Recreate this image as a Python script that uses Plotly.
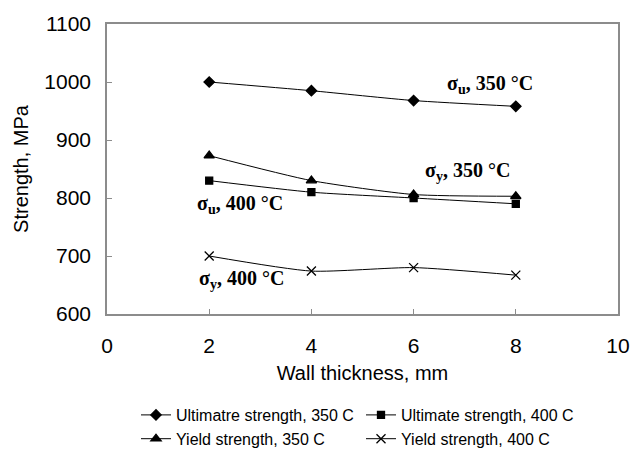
import plotly.graph_objects as go

thickness = [2, 4, 6, 8]
ult_350 = [1000, 985, 968, 958]
ult_400 = [830, 810, 800, 790]
yld_350 = [873, 830, 806, 803]
yld_400 = [700, 674, 680, 667]

series_names = [
    "Ultimatre strength, 350 C",
    "Ultimate strength, 400 C",
    "Yield strength, 350 C",
    "Yield strength, 400 C",
]
series_values = [ult_350, ult_400, yld_350, yld_400]
symbols = ["diamond", "square", "triangle-up", "x-thin-open"]
sizes = [8, 7, 9, 9]

label_texts = [
    "σ<sub>u</sub>, 350 °C",
    "σ<sub>y</sub>, 350 °C",
    "σ<sub>u</sub>, 400 °C",
    "σ<sub>y</sub>, 400 °C",
]
label_x = [7.5, 7.05, 2.6, 2.63]
label_y = [995, 846, 789, 660]

fig = go.Figure()
for name, vals, sym, sz in zip(series_names, series_values, symbols, sizes):
    fig.add_trace(go.Scatter(
        x=thickness, y=vals, name=name, mode="lines+markers",
        line=dict(color="black", width=1, shape="spline", smoothing=0.6),
        marker=dict(symbol=sym, size=sz, color="black",
                    line=dict(color="black", width=1.3)),
    ))

for t, lx, ly in zip(label_texts, label_x, label_y):
    fig.add_annotation(x=lx, y=ly, text="<b>" + t + "</b>", showarrow=False,
                       font=dict(family="Liberation Serif", size=20, color="black"),
                       xanchor="center", yanchor="middle")

axis_common = dict(
    showline=True, mirror=True, linecolor="#8c8c8c", linewidth=1.5,
    ticks="inside", ticklen=5, tickcolor="#8c8c8c", tickwidth=1,
    showgrid=False, zeroline=False,
    tickfont=dict(family="Liberation Sans", size=21, color="black"),
)

fig.update_layout(
    width=642, height=468,
    margin=dict(l=107, r=24, t=18, b=154),
    paper_bgcolor="white", plot_bgcolor="white",
    font=dict(family="Liberation Sans", color="black"),
    xaxis=dict(range=[0, 10], dtick=2, tick0=0,
               title=dict(text="Wall thickness, mm", standoff=10,
                          font=dict(family="Liberation Sans", size=20)),
               ticklabelstandoff=12, **axis_common),
    yaxis=dict(range=[600, 1100], dtick=100, tick0=600,
               title=dict(text="Strength, MPa", standoff=10,
                          font=dict(family="Liberation Sans", size=20)),
               ticklabelstandoff=10, **axis_common),
    showlegend=True,
    legend=dict(orientation="h", xref="container", yref="container",
                x=136 / 642, xanchor="left", y=1 - 398 / 468, yanchor="top",
                font=dict(family="Liberation Sans", size=16, color="black"),
                entrywidth=180, entrywidthmode="pixels",
                tracegroupgap=0, itemwidth=30, bgcolor="rgba(0,0,0,0)"),
)

fig.write_html("out.html")
